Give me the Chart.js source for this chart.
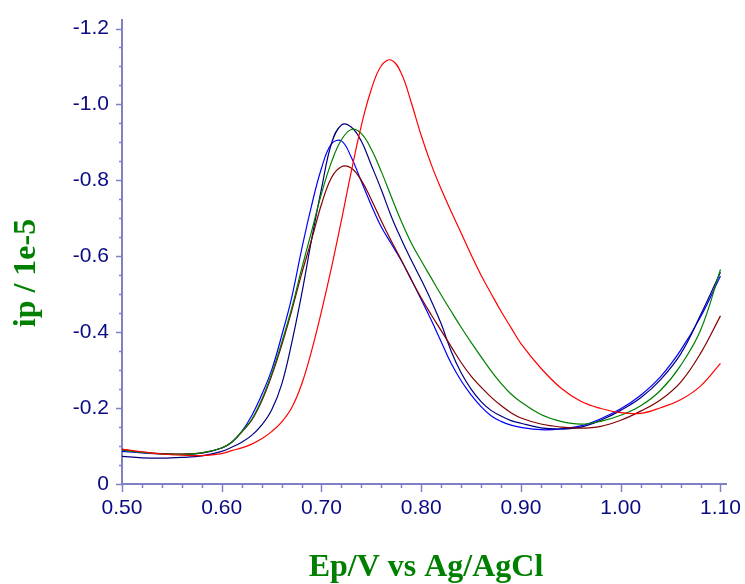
<!DOCTYPE html>
<html>
<head>
<meta charset="utf-8">
<script src="https://cdn.jsdelivr.net/npm/chart.js@4/dist/chart.umd.min.js"></script>
<style>
  html, body { margin: 0; padding: 0; background: #ffffff; }
  #wrap { width: 745px; height: 584px; position: relative; }
</style>
</head>
<body>
<div id="wrap"><canvas id="c" width="745" height="584"></canvas></div>
<script>
// ---- Data (potential in V, current in units of 1e-5 A) ----
const potentials = [0.50, 0.52, 0.54, 0.56, 0.58, 0.60, 0.61, 0.62, 0.63, 0.64, 0.65, 0.66, 0.67, 0.68, 0.69,
  0.70, 0.71, 0.72, 0.73, 0.74, 0.75, 0.76, 0.77, 0.78, 0.79, 0.80, 0.81, 0.82, 0.83, 0.84, 0.85, 0.86, 0.87,
  0.88, 0.89, 0.90, 0.92, 0.94, 0.96, 0.98, 1.00, 1.02, 1.04, 1.06, 1.08, 1.10];

const redCurrent = [-0.092, -0.085, -0.079, -0.076, -0.075, -0.080, -0.088, -0.095, -0.105, -0.119, -0.138, -0.163, -0.200, -0.262, -0.350,
  -0.455, -0.570, -0.695, -0.825, -0.945, -1.040, -1.102, -1.117, -1.082, -1.005, -0.918, -0.842, -0.777, -0.718, -0.661, -0.604, -0.550, -0.502,
  -0.455, -0.412, -0.370, -0.305, -0.253, -0.218, -0.199, -0.188, -0.186, -0.201, -0.222, -0.258, -0.318];

const greenCurrent = [-0.089, -0.083, -0.079, -0.078, -0.082, -0.095, -0.110, -0.138, -0.170, -0.222, -0.290, -0.372, -0.462, -0.566, -0.665,
  -0.765, -0.848, -0.907, -0.934, -0.923, -0.882, -0.823, -0.757, -0.692, -0.635, -0.588, -0.543, -0.498, -0.455, -0.413, -0.373, -0.335, -0.298,
  -0.265, -0.237, -0.216, -0.183, -0.165, -0.158, -0.165, -0.181, -0.206, -0.247, -0.312, -0.405, -0.565];

const brownCurrent = [-0.091, -0.084, -0.080, -0.079, -0.082, -0.095, -0.110, -0.137, -0.168, -0.218, -0.285, -0.365, -0.455, -0.553, -0.643,
  -0.737, -0.807, -0.836, -0.832, -0.800, -0.749, -0.693, -0.640, -0.590, -0.538, -0.490, -0.446, -0.404, -0.362, -0.320, -0.284, -0.255, -0.229,
  -0.207, -0.188, -0.174, -0.158, -0.150, -0.147, -0.152, -0.168, -0.192, -0.222, -0.268, -0.344, -0.443];

const navyCurrent = [-0.073, -0.069, -0.068, -0.070, -0.074, -0.086, -0.097, -0.110, -0.128, -0.155, -0.195, -0.262, -0.370, -0.498, -0.643,
  -0.778, -0.897, -0.946, -0.940, -0.903, -0.840, -0.775, -0.705, -0.645, -0.590, -0.538, -0.483, -0.422, -0.350, -0.293, -0.250, -0.217, -0.194,
  -0.179, -0.167, -0.160, -0.148, -0.145, -0.150, -0.168, -0.194, -0.227, -0.275, -0.342, -0.445, -0.558];

const blueCurrent = [-0.086, -0.082, -0.079, -0.078, -0.081, -0.095, -0.110, -0.138, -0.180, -0.235, -0.300, -0.390, -0.490, -0.617, -0.733,
  -0.832, -0.896, -0.904, -0.860, -0.797, -0.734, -0.677, -0.633, -0.589, -0.539, -0.486, -0.432, -0.375, -0.318, -0.272, -0.235, -0.204, -0.180,
  -0.165, -0.155, -0.149, -0.143, -0.145, -0.153, -0.172, -0.198, -0.234, -0.283, -0.352, -0.440, -0.548];

const xTickLabels = ['0.50', '0.60', '0.70', '0.80', '0.90', '1.00', '1.10'];
const yTickLabels = ['-1.2', '-1.0', '-0.8', '-0.6', '-0.4', '-0.2', '0'];

const xTitle = 'Ep/V vs Ag/AgCl';
const yTitle = 'ip / 1e-5';

// ---- derived tick sets ----
const xMajor = xTickLabels.map(parseFloat);
const yMajor = yTickLabels.map(parseFloat);
function withMinors(majors, parts) {
  const out = [];
  for (let i = 0; i < majors.length; i++) {
    out.push({ value: majors[i], major: true });
    if (i < majors.length - 1) {
      const step = (majors[i + 1] - majors[i]) / parts;
      for (let k = 1; k < parts; k++) out.push({ value: +(majors[i] + k * step).toFixed(4), major: false });
    }
  }
  return out;
}
const xTicks = withMinors(xMajor, 5);
const yTicks = withMinors(yMajor, 4);

const AXIS_COLOR = '#8080c4';
const LABEL_COLOR = '#0a0a82';
const TITLE_COLOR = '#008000';

function series(label, values, color) {
  return {
    label,
    data: potentials.map((x, i) => ({ x, y: values[i] })),
    borderColor: color,
    backgroundColor: color,
    borderWidth: 1.2,
    pointRadius: 0,
    fill: false,
    tension: 0.4
  };
}

const tickMarks = {
  id: 'tickMarks',
  afterDraw(chart) {
    const ctx = chart.ctx;
    const xs = chart.scales.x, ys = chart.scales.y;
    ctx.save();
    ctx.strokeStyle = AXIS_COLOR;
    ctx.lineWidth = 1.5;
    const yAxisX = chart.chartArea.left;
    const xAxisY = chart.chartArea.bottom;
    xs.ticks.forEach(t => {
      const px = Math.round(xs.getPixelForValue(t.value)) + 0.5;
      const len = t.major ? 8 : 4;
      ctx.beginPath(); ctx.moveTo(px, xAxisY); ctx.lineTo(px, xAxisY + len); ctx.stroke();
    });
    ys.ticks.forEach(t => {
      const py = Math.round(ys.getPixelForValue(t.value)) + 0.5;
      const len = t.major ? 6 : 3;
      ctx.beginPath(); ctx.moveTo(yAxisX, py); ctx.lineTo(yAxisX - len, py); ctx.stroke();
    });
    // axis titles
    ctx.fillStyle = TITLE_COLOR;
    ctx.font = 'bold 32px "Liberation Serif", "Times New Roman", serif';
    ctx.textAlign = 'center';
    ctx.textBaseline = 'alphabetic';
    ctx.fillText(xTitle, 426, 576);
    ctx.translate(35, 273);
    ctx.rotate(-Math.PI / 2);
    ctx.fillText(yTitle, 0, 0);
    ctx.restore();
  }
};

new Chart(document.getElementById('c'), {
  type: 'line',
  data: {
    datasets: [
      series('red', redCurrent, '#ff0000'),
      series('green', greenCurrent, '#008000'),
      series('brown', brownCurrent, '#800000'),
      series('navy', navyCurrent, '#000080'),
      series('blue', blueCurrent, '#0000ff')
    ]
  },
  options: {
    responsive: false,
    animation: false,
    events: [],
    layout: { padding: { top: 15, right: 10, left: 0, bottom: 0 } },
    plugins: { legend: { display: false }, tooltip: { enabled: false }, title: { display: false } },
    scales: {
      x: {
        type: 'linear',
        min: 0.5,
        max: 1.106,
        afterBuildTicks: (scale) => { scale.ticks = xTicks.map(t => ({ value: t.value, major: t.major })); },
        afterFit: (scale) => { scale.height = 100; },
        grid: { display: false, drawTicks: true, tickLength: 8 },
        border: { display: true, color: AXIS_COLOR, width: 2 },
        ticks: {
          autoSkip: false,
          maxRotation: 0,
          padding: 4,
          color: LABEL_COLOR,
          font: { family: '"Liberation Sans Narrow", "Liberation Sans", Arial, sans-serif', size: 21 },
          callback: (value) => {
            const i = xMajor.findIndex(v => Math.abs(v - value) < 1e-6);
            return i >= 0 ? xTickLabels[i] : '';
          }
        }
      },
      y: {
        type: 'linear',
        reverse: true,
        min: -1.2235,
        max: 0,
        afterBuildTicks: (scale) => { scale.ticks = yTicks.map(t => ({ value: t.value, major: t.major })); },
        afterFit: (scale) => { scale.width = 122; },
        grid: { display: false, drawTicks: true, tickLength: 6 },
        border: { display: true, color: AXIS_COLOR, width: 2 },
        ticks: {
          autoSkip: false,
          padding: 7,
          color: LABEL_COLOR,
          font: { family: '"Liberation Sans Narrow", "Liberation Sans", Arial, sans-serif', size: 21 },
          callback: (value) => {
            const i = yMajor.findIndex(v => Math.abs(v - value) < 1e-6);
            return i >= 0 ? yTickLabels[i] : '';
          }
        }
      }
    }
  },
  plugins: [tickMarks]
});
</script>
</body>
</html>
